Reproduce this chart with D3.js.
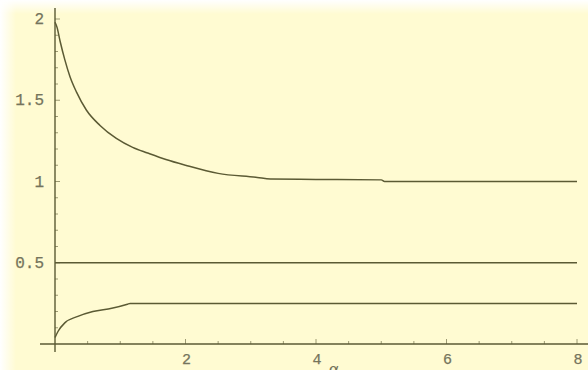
<!DOCTYPE html>
<html>
<head>
<meta charset="utf-8">
<script src="https://cdn.jsdelivr.net/npm/d3@7"></script>
<style>
  body { margin: 0; background: #fff; }
  svg { display: block; }
</style>
</head>
<body>
<div id="chart"></div>
<script>
// curve values
var upperX = [0, 0.03, 0.08, 0.15, 0.23, 0.33, 0.48, 0.69, 0.94, 1.19, 1.42, 1.7, 2, 2.5, 3.1, 3.3, 4, 5, 5.05, 8];
var upperY = [1.98, 1.95, 1.86, 1.75, 1.645, 1.55, 1.44, 1.345, 1.265, 1.21, 1.175, 1.135, 1.1, 1.05, 1.025, 1.015, 1.013, 1.01, 1.0, 1.0];
var midX = [0, 8];
var midY = [0.5, 0.5];
var lowerX = [0, 0.05, 0.15, 0.35, 0.58, 0.87, 1.11, 1.15, 8];
var lowerY = [0.04, 0.08, 0.13, 0.17, 0.2, 0.22, 0.245, 0.25, 0.25];

var xTicks = [2, 4, 6, 8];
var yTicks = [0.5, 1, 1.5, 2];
var xMinor = d3.range(0.5, 8.01, 0.5);
var yMinor = d3.range(0.1, 2.01, 0.1);

var svgWidth = 588;
var svgHeight = 370;
var ink = "#5b5a34";
var labelInk = "#75745c";

var svg = d3.select("#chart")
  .append("svg")
  .attr("width", svgWidth)
  .attr("height", svgHeight);

// pale yellow background with soft white edges
var defs = svg.append("defs");
var gTop = defs.append("linearGradient").attr("id", "fadeTop")
  .attr("x1", 0).attr("y1", 0).attr("x2", 0).attr("y2", 1);
gTop.append("stop").attr("offset", 0).attr("stop-color", "#fff").attr("stop-opacity", 1);
gTop.append("stop").attr("offset", 1).attr("stop-color", "#fff").attr("stop-opacity", 0);
var gLeft = defs.append("linearGradient").attr("id", "fadeLeft")
  .attr("x1", 0).attr("y1", 0).attr("x2", 1).attr("y2", 0);
gLeft.append("stop").attr("offset", 0).attr("stop-color", "#fff").attr("stop-opacity", 1);
gLeft.append("stop").attr("offset", 1).attr("stop-color", "#fff").attr("stop-opacity", 0);

svg.append("rect").attr("width", svgWidth).attr("height", svgHeight).attr("fill", "#fffbd2");
svg.append("rect").attr("width", svgWidth).attr("height", 14).attr("fill", "url(#fadeTop)");
svg.append("rect").attr("width", 16).attr("height", svgHeight).attr("fill", "url(#fadeLeft)");

var x = d3.scaleLinear().domain([0, 8]).range([55, 577]);
var y = d3.scaleLinear().domain([0, 2]).range([344, 19]);

// axes lines
svg.append("line")
  .attr("x1", 40).attr("x2", svgWidth)
  .attr("y1", y(0)).attr("y2", y(0))
  .attr("stroke", ink).attr("stroke-width", 1.4);
svg.append("line")
  .attr("x1", x(0)).attr("x2", x(0))
  .attr("y1", 8).attr("y2", 352)
  .attr("stroke", ink).attr("stroke-width", 1.4);

// ticks
svg.selectAll(".xminor").data(xMinor).enter().append("line")
  .attr("x1", d => x(d)).attr("x2", d => x(d))
  .attr("y1", y(0)).attr("y2", d => y(0) - (d % 2 === 0 ? 5 : 3))
  .attr("stroke", ink).attr("stroke-opacity", 0.6);
svg.selectAll(".yminor").data(yMinor).enter().append("line")
  .attr("x1", x(0)).attr("x2", d => x(0) + (Math.abs(d * 2 - Math.round(d * 2)) < 1e-6 ? 5 : 3))
  .attr("y1", d => y(d)).attr("y2", d => y(d))
  .attr("stroke", ink).attr("stroke-opacity", 0.6);

// tick labels (Courier-like, as Mathematica draws them)
svg.selectAll(".xlab").data(xTicks).enter().append("text")
  .attr("x", d => x(d) + 1).attr("y", 364)
  .attr("text-anchor", "middle")
  .attr("font-family", "Liberation Mono, monospace").attr("font-size", 15)
  .attr("fill", labelInk).attr("stroke", labelInk).attr("stroke-width", 0.25)
  .text(d => d);
svg.selectAll(".ylab").data(yTicks).enter().append("text")
  .attr("x", 44).attr("y", d => y(d) + 5)
  .attr("text-anchor", "end")
  .attr("font-family", "Liberation Mono, monospace").attr("font-size", 16)
  .attr("fill", labelInk).attr("stroke", labelInk).attr("stroke-width", 0.25)
  .text(d => d);

// axis label, partly below the bottom edge as in the reference
svg.append("text")
  .attr("x", 334).attr("y", 375)
  .attr("text-anchor", "middle")
  .attr("font-family", "DejaVu Sans, sans-serif").attr("font-size", 16)
  .attr("fill", labelInk)
  .text("α");

// curves
var line = d3.line()
  .x(d => x(d[0]))
  .y(d => y(d[1]))
  .curve(d3.curveMonotoneX);

[[upperX, upperY], [midX, midY], [lowerX, lowerY]].forEach(function(s) {
  svg.append("path")
    .datum(d3.zip(s[0], s[1]))
    .attr("d", line)
    .attr("fill", "none")
    .attr("stroke", ink)
    .attr("stroke-width", 1.5);
});
</script>
</body>
</html>
